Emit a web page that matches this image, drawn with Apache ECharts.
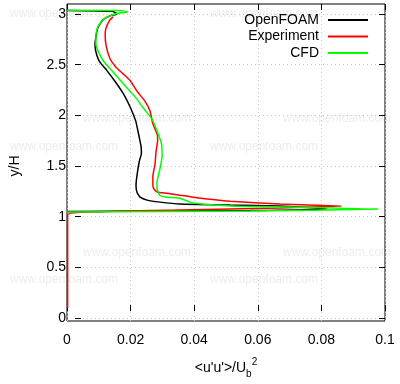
<!DOCTYPE html>
<html lang="en">
<head>
    <meta charset="UTF-8">
    <title>u'u' profile</title>
    <script type="text/javascript" src="https://cdn.jsdelivr.net/npm/echarts@6/dist/echarts.min.js"></script>
    <style>
        html, body { margin: 0; padding: 0; background: #fff; }
    </style>
</head>
<body>
<div id="main" style="width: 400px;height:384px"></div>

<script type="text/javascript">
    // <u'u'>/Ub^2 against y/H
    var openfoamX = [0, 0.0142, 0.0157, 0.0135, 0.0113, 0.0097, 0.0091, 0.0088, 0.0094, 0.0104, 0.0125, 0.0153, 0.0178, 0.0200, 0.0216, 0.0223, 0.0228, 0.0233, 0.0234, 0.0228, 0.0221, 0.0217, 0.0220, 0.0230, 0.0252, 0.0292, 0.0355, 0.0513, 0.0670, 0.0818, 0.0575, 0];
    var openfoamY = [3.035, 3.026, 3.0, 2.98, 2.94, 2.86, 2.77, 2.68, 2.58, 2.51, 2.43, 2.31, 2.19, 2.05, 1.92, 1.82, 1.74, 1.66, 1.59, 1.52, 1.39, 1.27, 1.20, 1.15, 1.12, 1.10, 1.08, 1.07, 1.06, 1.03, 1.015, 1.005];

    var experimentX = [0.0145, 0.0135, 0.0123, 0.0120, 0.0123, 0.0135, 0.0152, 0.0175, 0.0198, 0.0220, 0.0245, 0.0261, 0.0270, 0.0284, 0.0285, 0.0280, 0.0277, 0.0270, 0.0270, 0.0274, 0.0286, 0.0314, 0.0355, 0.0396, 0.0513, 0.0670, 0.0865, 0.0670, 0.0355, 0.0082, 0.0002, 0.0002];
    var experimentY = [2.97, 2.94, 2.86, 2.79, 2.68, 2.55, 2.47, 2.40, 2.33, 2.22, 2.12, 2.02, 1.89, 1.78, 1.72, 1.61, 1.49, 1.36, 1.27, 1.23, 1.20, 1.19, 1.17, 1.15, 1.11, 1.08, 1.06, 1.04, 1.02, 1.0, 0.97, 0.03];

    var cfdX = [0, 0.0167, 0.0192, 0.0151, 0.0116, 0.0097, 0.0091, 0.0091, 0.0101, 0.0116, 0.0140, 0.0176, 0.0215, 0.0240, 0.0267, 0.0283, 0.0297, 0.0299, 0.0292, 0.0283, 0.0283, 0.0292, 0.0314, 0.0355, 0.0396, 0.0513, 0.0701, 0.0978, 0.0575, 0];
    var cfdY = [3.037, 3.035, 3.02, 3.0, 2.95, 2.87, 2.79, 2.70, 2.60, 2.52, 2.43, 2.30, 2.16, 2.05, 1.94, 1.82, 1.69, 1.56, 1.43, 1.30, 1.24, 1.17, 1.15, 1.14, 1.09, 1.06, 1.05, 1.03, 1.01, 1.0];

    var seriesNames = ['OpenFOAM', 'Experiment', 'CFD'];
    var seriesColors = ['#000000', '#ff0000', '#00ff00'];
    var xTicks = [0, 0.1, 0.02];   // min, max, step
    var yTicks = [0, 3, 0.5];

    function pairs(xs, ys) {
        var out = [];
        for (var i = 0; i < xs.length; i++) out.push([xs[i], ys[i]]);
        return out;
    }

    var chart = echarts.init(document.getElementById('main'));
    var font = 'Liberation Sans, Arial, sans-serif';

    // faint watermark text tiled behind the plot
    var marks = [[10, 15], [210, 15], [83, 120], [283, 120], [10, 148], [210, 148],
                 [83, 254], [283, 254], [10, 281], [210, 281]];
    var graphics = marks.map(function (m) {
        return {
            type: 'text', left: m[0], top: m[1] - 7, z: -10, silent: true,
            style: { text: 'www.openfoam.com', fill: '#ededed', font: '12px ' + font }
        };
    });

    var legends = seriesNames.map(function (n, i) {
        return {
            data: [n], right: 32, top: 13 + i * 16.5, align: 'right',
            icon: 'rect', itemWidth: 40, itemHeight: 2, padding: 0,
            textStyle: { fontSize: 14, fontFamily: font, color: '#000', padding: [0, 4, 0, 0] }
        };
    });

    var tickStyle = { show: true, inside: true, length: 6, lineStyle: { color: '#000', width: 1 } };
    var gridLine = { show: true, lineStyle: { color: '#c8c8c8', type: [1, 3], width: 1 } };

    var option = {
        animation: false,
        textStyle: { fontFamily: font },
        graphic: graphics,
        legend: legends,
        grid: [
            { left: 67, right: 15, top: 4, bottom: 56, show: true, borderColor: '#000', borderWidth: 1, backgroundColor: 'transparent' },
            { left: 67, right: 15, top: 14, bottom: 66 }
        ],
        xAxis: [
            {
                gridIndex: 0, type: 'value', min: xTicks[0], max: xTicks[1], interval: xTicks[2], position: 'bottom',
                axisLine: { show: false }, axisTick: tickStyle, splitLine: gridLine,
                axisLabel: { fontSize: 14, color: '#000', margin: 12, fontFamily: font },
                name: '{a|<u\'u\'>/U}{b|b}{c|2}', nameLocation: 'middle', nameGap: 36,
                nameTextStyle: {
                    rich: {
                        a: { fontSize: 14, color: '#000', fontFamily: font, lineHeight: 22, verticalAlign: 'middle' },
                        b: { fontSize: 10, color: '#000', fontFamily: font, lineHeight: 22, verticalAlign: 'bottom' },
                        c: { fontSize: 10, color: '#000', fontFamily: font, lineHeight: 22, verticalAlign: 'top' }
                    }
                }
            },
            {
                gridIndex: 0, type: 'value', min: xTicks[0], max: xTicks[1], interval: xTicks[2], position: 'top',
                axisLine: { show: false }, axisTick: tickStyle, axisLabel: { show: false }, splitLine: { show: false }
            },
            { gridIndex: 1, type: 'value', min: xTicks[0], max: xTicks[1], show: false }
        ],
        yAxis: [
            { gridIndex: 0, type: 'value', min: -0.1, max: 3.1, show: false },
            {
                gridIndex: 1, type: 'value', min: yTicks[0], max: yTicks[1], interval: yTicks[2], position: 'left',
                axisLine: { show: false }, axisTick: tickStyle, splitLine: gridLine,
                axisLabel: { fontSize: 14, color: '#000', margin: 9, fontFamily: font },
                name: 'y/H', nameLocation: 'middle', nameGap: 53,
                nameTextStyle: { fontSize: 14, color: '#000', fontFamily: font }
            },
            {
                gridIndex: 1, type: 'value', min: yTicks[0], max: yTicks[1], interval: yTicks[2], position: 'right',
                axisLine: { show: false }, axisTick: tickStyle, axisLabel: { show: false }, splitLine: { show: false }
            }
        ],
        series: [
            { name: seriesNames[0], data: pairs(openfoamX, openfoamY) },
            { name: seriesNames[1], data: pairs(experimentX, experimentY) },
            { name: seriesNames[2], data: pairs(cfdX, cfdY) }
        ].map(function (s, i) {
            return {
                name: s.name, type: 'line', data: s.data, xAxisIndex: 0, yAxisIndex: 0,
                symbol: 'none', showSymbol: false, smooth: 0.15,
                lineStyle: { color: seriesColors[i], width: 1.5 },
                itemStyle: { color: seriesColors[i] }
            };
        })
    };

    option && chart.setOption(option);
</script>
</body>
</html>
